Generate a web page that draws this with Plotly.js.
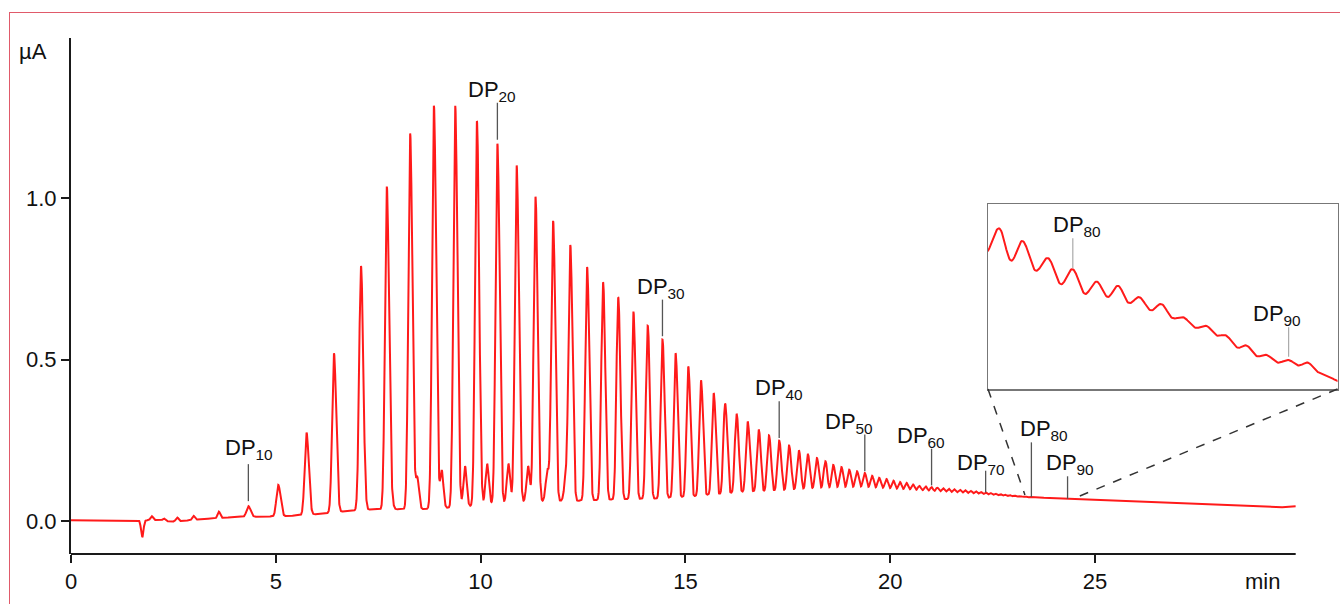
<!DOCTYPE html>
<html><head><meta charset="utf-8">
<script src="https://cdn.plot.ly/plotly-3.0.1.min.js"></script>
<style>
html,body{margin:0;padding:0;background:#fff;overflow:hidden;width:1340px;height:604px;}
#chart{position:absolute;left:0;top:0;width:1340px;height:604px;}
#frame{position:absolute;left:9px;top:12px;width:3000px;height:3000px;border:1.5px solid #e05a6a;pointer-events:none;}
</style></head><body>
<div id="chart"></div><div id="frame"></div>
<script>
// ---------------- DATA ----------------
// Main homologous series, DP10 ... DP92: retention time (min) and apex signal (µA)
const peakTimes = [
  4.33, 5.06, 5.75, 6.42, 7.08, 7.71, 8.28, 8.86, 9.38, 9.91,
  10.41, 10.88, 11.34, 11.77, 12.19, 12.60, 12.99, 13.36, 13.73, 14.08,
  14.44, 14.76, 15.07, 15.38, 15.69, 15.97, 16.25, 16.52, 16.79, 17.04,
  17.29, 17.53, 17.77, 17.99, 18.21, 18.42, 18.61, 18.81, 19.00, 19.19,
  19.38, 19.56, 19.73, 19.91, 20.08, 20.24, 20.40, 20.56, 20.71, 20.87,
  21.01, 21.15, 21.29, 21.43, 21.56, 21.70, 21.83, 21.96, 22.09, 22.21,
  22.33, 22.45, 22.57, 22.69, 22.80, 22.92, 23.03, 23.146, 23.242, 23.347,
  23.447, 23.545, 23.633, 23.72, 23.81, 23.90, 23.995, 24.077, 24.159, 24.24,
  24.33, 24.41, 24.49
];
const peakApex = [
  0.046, 0.112, 0.274, 0.520, 0.790, 1.036, 1.201, 1.287, 1.287, 1.239,
  1.169, 1.102, 1.005, 0.930, 0.854, 0.787, 0.740, 0.693, 0.649, 0.605,
  0.562, 0.520, 0.479, 0.436, 0.396, 0.364, 0.332, 0.308, 0.283, 0.265,
  0.249, 0.234, 0.219, 0.206, 0.195, 0.185, 0.174, 0.167, 0.159, 0.154,
  0.149, 0.140, 0.134, 0.130, 0.125, 0.121, 0.118, 0.113, 0.109, 0.107,
  0.105, 0.1034, 0.1017, 0.1000, 0.0985, 0.0969, 0.0954, 0.0938, 0.0921, 0.0901,
  0.0885, 0.0867, 0.0849, 0.0831, 0.0815, 0.0801, 0.0788, 0.0772, 0.07637, 0.07523,
  0.0745, 0.07368, 0.0734, 0.07265, 0.0722, 0.07132, 0.07075, 0.07009, 0.06945, 0.06883,
  0.0685, 0.06832, 0.06745
];
const firstDP = 10;
const peakDP = peakTimes.map((_, i) => firstDP + i);

// Baseline (valley floor) read between the peaks
const baseTimes = [0, 1.6, 2.12, 2.42, 2.72, 3.15, 3.85, 4.15, 4.7, 5.4, 6.08, 6.75, 7.4, 8.0, 8.6, 9.2, 9.75,
  10.3, 10.8, 11.25, 11.7, 12.4, 13.0, 13.6, 14.3, 14.62, 14.95, 15.26, 15.56, 15.84, 16.13, 16.4, 16.9,
  17.4, 17.9, 18.3, 18.8, 19.3, 19.8, 20.3, 21.0, 21.5, 22.0, 22.33, 22.7, 23.085, 23.199, 23.299, 23.398,
  23.501, 23.586, 23.681, 23.77, 23.858, 23.954, 24.05, 24.125, 24.206, 24.288, 24.377, 24.45, 24.53,
  25.0, 26.0, 27.0, 28.0, 29.0, 29.45, 29.9];
const baseValues = [0.002, 0.002, 0.003, -0.002, 0.000, 0.005, 0.011, 0.013, 0.013, 0.016, 0.022, 0.031, 0.036, 0.036, 0.037, 0.041, 0.046,
  0.053, 0.057, 0.060, 0.062, 0.063, 0.066, 0.068, 0.070, 0.073, 0.075, 0.078, 0.082, 0.085, 0.088, 0.091, 0.094,
  0.097, 0.101, 0.104, 0.106, 0.107, 0.103, 0.0995, 0.094, 0.090, 0.086, 0.083, 0.079, 0.0756, 0.07505, 0.07439, 0.07351,
  0.07285, 0.07269, 0.07225, 0.07176, 0.07126, 0.0706, 0.07004, 0.06927, 0.06872, 0.06832, 0.06812, 0.0677, 0.0671,
  0.0648, 0.0600, 0.0545, 0.0500, 0.0445, 0.0415, 0.046];

// Early disturbances (system dip and small early oligomers)
const earlyTimes = [1.74, 1.97, 2.27, 2.59, 2.99, 3.61];
const earlyApex = [-0.050, 0.015, 0.008, 0.011, 0.016, 0.029];

// Minor secondary series riding on the tails of DP15 ... DP23
const minorTimes = [7.83, 8.455, 9.05, 9.62, 10.16, 10.68, 11.16, 11.63, 12.08];
const minorApex = [0.134, 0.137, 0.158, 0.170, 0.177, 0.177, 0.170, 0.160, 0.158];

// Labelled peaks
const labelDP = [10, 20, 30, 40, 50, 60, 70, 80, 90];
const insetLabelDP = [80, 90];

// ---------------- model of the trace from the read values ----------------
const SIG_L = 0.045, SIG_R = 0.055, SIG_EARLY = 0.03, SIG_MINOR = 0.04;
function interp(xs, ys, t) {
  if (t <= xs[0]) return ys[0];
  if (t >= xs[xs.length - 1]) return ys[ys.length - 1];
  let lo = 0, hi = xs.length - 1;
  while (hi - lo > 1) { const m = (lo + hi) >> 1; if (xs[m] <= t) lo = m; else hi = m; }
  const f = (t - xs[lo]) / (xs[hi] - xs[lo]);
  return ys[lo] + f * (ys[hi] - ys[lo]);
}
const N = peakTimes.length;
const halfL = [], halfR = [], pL = [], pR = [], hMain = [];
for (let i = 0; i < N; i++) {
  const gl = i > 0 ? (peakTimes[i] - peakTimes[i - 1]) / 2 : (peakTimes[1] - peakTimes[0]) / 2;
  const gr = i < N - 1 ? (peakTimes[i + 1] - peakTimes[i]) / 2 : (peakTimes[i] - peakTimes[i - 1]) / 2;
  halfL.push(gl); halfR.push(gr);
  pL.push(Math.max(1, 2 / (Math.PI * Math.PI) * Math.pow(gl / SIG_L, 2)));
  pR.push(Math.max(1, 2 / (Math.PI * Math.PI) * Math.pow(gr / SIG_R, 2)));
  hMain.push(peakApex[i] - interp(baseTimes, baseValues, peakTimes[i]));
}
function mainSum(t) {
  let s = 0;
  for (let i = 0; i < N; i++) {
    const d = t - peakTimes[i];
    if (d < 0) { if (-d >= halfL[i]) continue; s += hMain[i] * Math.pow(Math.cos(Math.PI / 2 * d / halfL[i]), 2 * pL[i]); }
    else { if (d >= halfR[i]) continue; s += hMain[i] * Math.pow(Math.cos(Math.PI / 2 * d / halfR[i]), 2 * pR[i]); }
  }
  return s;
}
const gauss = (t, c, s) => Math.exp(-(t - c) * (t - c) / (2 * s * s));
const hEarly = earlyTimes.map((c, i) => earlyApex[i] - interp(baseTimes, baseValues, c) - mainSum(c));
const hMinor = minorTimes.map((c, i) => minorApex[i] - interp(baseTimes, baseValues, c) - mainSum(c));
function signal(t) {
  let s = interp(baseTimes, baseValues, t) + mainSum(t);
  for (let i = 0; i < earlyTimes.length; i++) s += hEarly[i] * gauss(t, earlyTimes[i], SIG_EARLY);
  for (let i = 0; i < minorTimes.length; i++) s += hMinor[i] * gauss(t, minorTimes[i], SIG_MINOR);
  return s;
}
const T_END = 29.9, DT = 0.003;
const xs = [], ys = [];
for (let k = 0; k * DT <= T_END + 1e-9; k++) { const t = k * DT; xs.push(t); ys.push(signal(t)); }

// ---------------- layout geometry ----------------
const W = 1340, H = 604, ML = 71, MR = 0, MT = 38, MB = 50;
const PW = W - ML - MR, PH = H - MT - MB;
const PX_PER_MIN = 40.96;
const XMAX = PW / PX_PER_MIN;
const YLO = -0.1023, YHI = 1.4967;
const PX_PER_UA = PH / (YHI - YLO);
const px2paperX = px => (px - ML) / PW;
const px2paperY = py => (H - MB - py) / PH;
const insetDomX = [px2paperX(988), px2paperX(1337.5)];
const insetDomY = [px2paperY(389), px2paperY(204)];
const INSET_X = [23.10, 24.53], INSET_Y = [0.06658, 0.07882];
const INSET_PX_PER_UA = (389 - 204) / (INSET_Y[1] - INSET_Y[0]);

const FONT = 'Liberation Sans, Arial, Helvetica, sans-serif';
const shapes = [], annotations = [];
// x axis line
shapes.push({type: 'line', xref: 'x', yref: 'paper', x0: 0, x1: T_END, y0: 0, y1: 0, line: {color: '#1a1a1a', width: 2}});
// zoom connectors
const toPaperY = v => (v - YLO) / (YHI - YLO);
[[insetDomX[0], 23.29], [insetDomX[1], 24.55]].forEach(([px0, t]) => {
  shapes.push({type: 'line', xref: 'paper', yref: 'paper', x0: px0, y0: insetDomY[0],
    x1: t / XMAX, y1: toPaperY(signal(t) + 2 / PX_PER_UA), line: {color: '#333', width: 1.5, dash: 'dash'}});
});
// main labels
const mainLabelStyle = {
  10: {gap: 5, len: 37, dx: 1, dy: -3}, 20: {gap: 4, len: 37, dx: -5, dy: 0}, 30: {gap: 3.4, len: 36.6, dx: -1, dy: 0},
  40: {gap: 2.7, len: 36.6, dx: 0, dy: 0}, 50: {gap: 1.6, len: 36.7, dx: -15.5, dy: 0}, 60: {gap: 1.7, len: 36.7, dx: -10.6, dy: 0},
  70: {gap: 0, len: 21.7, dx: -5, dy: 5}, 80: {gap: 0, len: 54.6, dx: 13, dy: 0}, 90: {gap: 0, len: 22.6, dx: 2, dy: 0}
};
const TEXT_BASE_SHIFT = -4;
labelDP.forEach(dp => {
  const st = mainLabelStyle[dp];
  const t = peakTimes[peakDP.indexOf(dp)];
  const yb = signal(t) + st.gap / PX_PER_UA, yt = yb + st.len / PX_PER_UA;
  shapes.push({type: 'line', xref: 'x', yref: 'y', x0: t, x1: t, y0: yb, y1: yt, line: {color: '#555', width: 1.3}});
  annotations.push({xref: 'x', yref: 'y', x: t, y: yt, xanchor: 'center', yanchor: 'bottom', showarrow: false,
    xshift: st.dx, yshift: TEXT_BASE_SHIFT - st.dy, text: 'DP<sub>' + dp + '</sub>', font: {family: FONT, size: 22, color: '#111'}});
});
const insetLabelStyle = {80: {gap: 1, len: 30, dx: 4}, 90: {gap: 3.3, len: 29.4, dx: -11.6}};
insetLabelDP.forEach(dp => {
  const st = insetLabelStyle[dp];
  const t = peakTimes[peakDP.indexOf(dp)];
  const yb = signal(t) + st.gap / INSET_PX_PER_UA, yt = yb + st.len / INSET_PX_PER_UA;
  shapes.push({type: 'line', xref: 'x2', yref: 'y2', x0: t, x1: t, y0: yb, y1: yt, line: {color: '#aaa', width: 1.2}});
  annotations.push({xref: 'x2', yref: 'y2', x: t, y: yt, xanchor: 'center', yanchor: 'bottom', showarrow: false,
    xshift: st.dx, yshift: TEXT_BASE_SHIFT, text: 'DP<sub>' + dp + '</sub>', font: {family: FONT, size: 22, color: '#111'}});
});
// unit labels
annotations.push({xref: 'paper', yref: 'paper', x: px2paperX(33), y: px2paperY(51), xanchor: 'center', yanchor: 'middle',
  showarrow: false, text: 'µA', font: {family: FONT, size: 22, color: '#111'}});
annotations.push({xref: 'paper', yref: 'paper', x: px2paperX(1262), y: px2paperY(581), xanchor: 'center', yanchor: 'middle',
  showarrow: false, text: 'min', font: {family: FONT, size: 22, color: '#111'}});

const xTicks = [0, 5, 10, 15, 20, 25];
const yTicks = [0, 0.5, 1.0];
const yTickText = ['0.0', '0.5', '1.0'];

const traceStyle = {color: '#ff1a1a', width: 2};
const data = [
  {x: xs, y: ys, type: 'scatter', mode: 'lines', line: traceStyle, xaxis: 'x', yaxis: 'y', hoverinfo: 'skip'},
  {x: xs, y: ys, type: 'scatter', mode: 'lines', line: traceStyle, xaxis: 'x2', yaxis: 'y2', hoverinfo: 'skip'}
];
const axisCommon = {showgrid: false, zeroline: false, fixedrange: true};
const layout = {
  width: W, height: H, margin: {l: ML, r: MR, t: MT, b: MB, pad: 0},
  paper_bgcolor: '#ffffff', plot_bgcolor: '#ffffff', showlegend: false,
  font: {family: FONT, size: 22, color: '#111'},
  xaxis: Object.assign({}, axisCommon, {range: [0, XMAX], tickmode: 'array', tickvals: xTicks, ticktext: xTicks.map(String),
    ticks: 'outside', ticklen: 8, tickwidth: 2, tickcolor: '#1a1a1a', showline: false,
    tickfont: {family: FONT, size: 22, color: '#111'}}),
  yaxis: Object.assign({}, axisCommon, {range: [YLO, YHI], tickmode: 'array', tickvals: yTicks, ticktext: yTickText,
    ticks: 'outside', ticklen: 8, tickwidth: 2, tickcolor: '#1a1a1a', showline: true, linewidth: 2, linecolor: '#1a1a1a',
    tickfont: {family: FONT, size: 22, color: '#111'}}),
  xaxis2: Object.assign({}, axisCommon, {domain: insetDomX, anchor: 'y2', range: INSET_X, showline: true, mirror: true,
    linecolor: '#777', linewidth: 1.5, ticks: '', showticklabels: false}),
  yaxis2: Object.assign({}, axisCommon, {domain: insetDomY, anchor: 'x2', range: INSET_Y, showline: true, mirror: true,
    linecolor: '#777', linewidth: 1.5, ticks: '', showticklabels: false}),
  shapes: shapes, annotations: annotations
};
Plotly.newPlot('chart', data, layout, {staticPlot: true, displayModeBar: false});
</script>
</body></html>
